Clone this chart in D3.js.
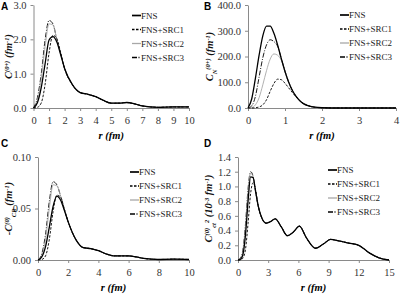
<!DOCTYPE html>
<html><head><meta charset="utf-8">
<script src="https://cdn.jsdelivr.net/npm/d3@7"></script>
<style>body{margin:0;background:#fff}svg{display:block}
.serif{font-family:"Liberation Serif","Times New Roman",Times,serif}
.sans{font-family:"Liberation Sans",Arial,Helvetica,sans-serif}
</style>
</head><body>
<script>
// ---------- DATA ----------
const seriesNames = ["FNS","FNS+SRC1","FNS+SRC2","FNS+SRC3"];

const rA = [0,0.25,0.5,0.75,1,1.25,1.5,1.75,2,2.5,3,3.5,4,4.5,5,5.5,6,6.5,7,7.5,8,9,10];
const aFNS  = [0,0.15,0.6,1.3,1.98,2.08,1.92,1.55,1.15,0.68,0.45,0.4,0.33,0.22,0.14,0.14,0.16,0.12,0.06,0.03,0.02,0.03,0.03];
const aSRC1 = [0,0.02,0.15,0.7,1.6,2.12,2.02,1.6,1.15,0.68,0.45,0.4,0.33,0.22,0.14,0.14,0.16,0.12,0.06,0.03,0.02,0.03,0.03];
const aSRC2 = [0,0.2,0.85,1.8,2.45,2.42,2.0,1.6,1.15,0.68,0.45,0.4,0.33,0.22,0.14,0.14,0.16,0.12,0.06,0.03,0.02,0.03,0.03];
const aSRC3 = [0,0.3,1.0,2.0,2.55,2.45,2.0,1.58,1.15,0.68,0.45,0.4,0.33,0.22,0.14,0.14,0.16,0.12,0.06,0.03,0.02,0.03,0.03];

const rB = [0,0.1,0.2,0.3,0.4,0.5,0.6,0.7,0.8,0.9,1.0,1.1,1.2,1.3,1.4,1.5,1.6,1.8,2.0,2.5,3,3.5,4];
const bFNS  = [0,35,115,205,280,318,318,290,245,192,142,100,68,45,28,17,10,3,1,0,0,0,0];
const bSRC1 = [0,0,1,4,12,32,65,95,112,110,96,78,60,43,28,17,10,3,1,0,0,0,0];
const bSRC2 = [0,2,12,40,90,145,190,210,205,185,142,100,68,45,28,17,10,3,1,0,0,0,0];
const bSRC3 = [0,8,45,120,195,245,265,258,240,192,142,100,68,45,28,17,10,3,1,0,0,0,0];

const rC = rA;
const cFNS  = [0,0.003,0.013,0.032,0.052,0.062,0.058,0.048,0.037,0.02,0.012,0.011,0.009,0.006,0.004,0.004,0.004,0.003,0.0015,0.0008,0.0005,0.0008,0.0005];
const cSRC1 = [0,0.0005,0.004,0.02,0.047,0.063,0.061,0.049,0.037,0.02,0.012,0.011,0.009,0.006,0.004,0.004,0.004,0.003,0.0015,0.0008,0.0005,0.0008,0.0005];
const cSRC2 = [0,0.004,0.02,0.05,0.073,0.072,0.062,0.049,0.037,0.02,0.012,0.011,0.009,0.006,0.004,0.004,0.004,0.003,0.0015,0.0008,0.0005,0.0008,0.0005];
const cSRC3 = [0,0.006,0.025,0.057,0.076,0.073,0.062,0.049,0.037,0.02,0.012,0.011,0.009,0.006,0.004,0.004,0.004,0.003,0.0015,0.0008,0.0005,0.0008,0.0005];

const rD = [0,0.25,0.5,0.75,1,1.25,1.5,1.75,2,2.4,2.8,3.2,3.7,4.3,4.9,5.5,6.1,6.8,7.7,8.5,9.2,10,11,12,13,14,15];
const dFNS  = [0,0.01,0.08,0.35,0.8,1.13,1.12,0.93,0.74,0.56,0.5,0.52,0.56,0.45,0.33,0.38,0.46,0.3,0.16,0.22,0.28,0.26,0.23,0.2,0.1,0.03,0];
const dSRC1 = [0,0,0.03,0.15,0.5,0.9,1.05,0.95,0.74,0.56,0.5,0.52,0.56,0.45,0.33,0.38,0.46,0.3,0.16,0.22,0.28,0.26,0.23,0.2,0.1,0.03,0];
const dSRC2 = [0,0.02,0.12,0.45,0.92,1.18,1.13,0.93,0.74,0.56,0.5,0.52,0.56,0.45,0.33,0.38,0.46,0.3,0.16,0.22,0.28,0.26,0.23,0.2,0.1,0.03,0];
const dSRC3 = [0,0.03,0.15,0.5,0.97,1.2,1.14,0.93,0.74,0.56,0.5,0.52,0.56,0.45,0.33,0.38,0.46,0.3,0.16,0.22,0.28,0.26,0.23,0.2,0.1,0.03,0];

const xTicksA = [0,1,2,3,4,5,6,7,8,9,10], yTicksA = [0,1,2,3];
const xTicksB = [0,1,2,3,4], yTicksB = [0,100,200,300,400];
const xTicksC = [0,2,4,6,8,10], yTicksC = [0,0.05,0.10];
const xTicksD = [0,3,6,9,12,15], yTicksD = [0,0.2,0.4,0.6,0.8,1.0,1.2,1.4];

// ---------- STYLE ----------
const styles = [
  {w:1.3, c:"#000", dash:null},
  {w:0.9, c:"#000", dash:"2.5,1.5"},
  {w:0.9, c:"#a8a8a8", dash:null},
  {w:0.9, c:"#000", dash:"5,1.5,1,1.5"}
];

const svg = d3.select("body").append("svg").attr("width",400).attr("height",294);

function panel(cfg){
  const x = d3.scaleLinear().domain(cfg.xd).range([cfg.x0,cfg.x1]);
  const y = d3.scaleLinear().domain(cfg.yd).range([cfg.yb,cfg.yt]);
  const g = svg.append("g");
  const xa = g.append("g").attr("transform",`translate(0,${cfg.yb})`)
    .call(d3.axisBottom(x).tickValues(cfg.xt).tickSize(3).tickSizeOuter(0).tickFormat(d3.format("d")));
  const ya = g.append("g").attr("transform",`translate(${cfg.x0},0)`)
    .call(d3.axisLeft(y).tickValues(cfg.yt_).tickSize(3).tickSizeOuter(0).tickFormat(d3.format(cfg.yf)));
  [xa,ya].forEach(a=>{
    a.attr("font-family",null).attr("font-size",null);
    a.selectAll("path,line").attr("stroke","#8a8a8a");
    a.selectAll("text").attr("class","serif").style("font-size","10.5px").attr("fill","#333");
  });
  xa.selectAll("text").attr("dy","0.95em");
  ya.selectAll("text").attr("dx","-1px");
  const line = d3.line().x((d,i)=>x(cfg.r[i])).y(d=>y(d)).curve(d3.curveMonotoneX);
  [3,2,1,0].forEach(k=>{
    g.append("path").attr("d",line(cfg.s[k])).attr("fill","none")
      .attr("stroke",styles[k].c).attr("stroke-width",styles[k].w)
      .attr("stroke-dasharray",styles[k].dash);
  });
  seriesNames.forEach((n,k)=>{
    const ly = cfg.ly + k*14;
    g.append("line").attr("x1",cfg.lx).attr("x2",cfg.lx+9).attr("y1",ly).attr("y2",ly)
      .attr("stroke",styles[k].c).attr("stroke-width",styles[k].w+0.4).attr("stroke-dasharray",styles[k].dash);
    g.append("text").attr("x",cfg.lx+9).attr("y",ly).attr("dy","0.35em")
      .attr("class","serif").style("font-size","9px").attr("fill","#222").text(n);
  });
  g.append("text").attr("x",(cfg.x0+cfg.x1)/2).attr("y",cfg.yb+31)
    .attr("text-anchor","middle").attr("class","serif").style("font-size","10.5px")
    .style("font-weight","bold").style("font-style","italic").text("r (fm)");
  const yt = g.append("text").attr("transform",`translate(${cfg.ytx},${(cfg.yt+cfg.yb)/2}) rotate(-90)`)
    .attr("text-anchor","middle").attr("class","serif").style("font-size","10.5px")
    .style("font-weight","bold").style("font-style","italic").attr("fill","#111");
  cfg.ytitle.forEach(p=>{
    const t = yt.append("tspan").text(p.t);
    if(p.s==="sup"){t.style("font-size","6.5px").attr("baseline-shift","super");}
    if(p.s==="sub"){t.style("font-size","6.5px").attr("baseline-shift","sub");}
  });
  svg.append("text").attr("x",cfg.px).attr("y",cfg.py).attr("class","sans")
    .style("font-weight","bold").style("font-size","10px").text(cfg.letter);
}

panel({letter:"A",px:1,py:10,x0:33.5,x1:189,yt:5,yb:108,xd:[0,10],yd:[0,3],xt:xTicksA,yt_:yTicksA,yf:".1f",
  r:rA,s:[aFNS,aSRC1,aSRC2,aSRC3],lx:132,ly:15.5,ytx:12,
  ytitle:[{t:"C"},{t:"(0+)",s:"sup"},{t:" (fm"},{t:"-1",s:"sup"},{t:")"}]});
panel({letter:"B",px:204,py:10,x0:248,x1:396,yt:5,yb:108,xd:[0,4],yd:[0,400],xt:xTicksB,yt_:yTicksB,yf:".1f",
  r:rB,s:[bFNS,bSRC1,bSRC2,bSRC3],lx:340,ly:15,ytx:213,
  ytitle:[{t:"C"},{t:"N",s:"sub"},{t:"(0+)",s:"sup"},{t:" (fm"},{t:"-1",s:"sup"},{t:")"}]});
panel({letter:"C",px:1,py:147,x0:38,x1:189,yt:157,yb:260,xd:[0,10],yd:[0,0.1],xt:xTicksC,yt_:yTicksC,yf:".2f",
  r:rC,s:[cFNS,cSRC1,cSRC2,cSRC3],lx:130,ly:172,ytx:12,
  ytitle:[{t:"-C"},{t:"(0)",s:"sup"},{t:"CR",s:"sub"},{t:" (fm"},{t:"-1",s:"sup"},{t:")"}]});
panel({letter:"D",px:204,py:147,x0:238,x1:389,yt:157,yb:260,xd:[0,15],yd:[0,1.4],xt:xTicksD,yt_:yTicksD,yf:".1f",
  r:rD,s:[dFNS,dSRC1,dSRC2,dSRC3],lx:328,ly:170,ytx:212,
  ytitle:[{t:"C"},{t:"(0)",s:"sup"},{t:"ct",s:"sub"},{t:"2",s:"sup"},{t:" (10"},{t:"-3",s:"sup"},{t:" fm"},{t:"-1",s:"sup"},{t:")"}]});
</script>
</body></html>
